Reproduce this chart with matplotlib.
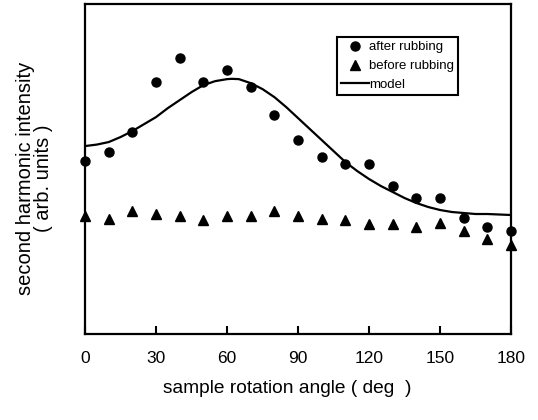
import numpy as np
import matplotlib.pyplot as plt

plt.rcParams['font.family'] = ['Liberation Sans', 'DejaVu Sans']

# sample rotation angle (deg)
angle = [0, 10, 20, 30, 40, 50, 60, 70, 80, 90, 100, 110, 120, 130, 140, 150, 160, 170, 180]
after_rubbing = [173, 181.7, 202.3, 252, 276.3, 252, 264, 247.3, 218.7, 194, 177.5,
                 170, 170, 148.3, 136.3, 136.3, 115.7, 107.3, 103.3]
before_rubbing = [118, 115.3, 123.3, 119.7, 117.7, 113.7, 117.7, 117.7, 123.3, 118, 115.3,
                  113.7, 109.7, 109.7, 107, 111.3, 103, 94.7, 88.7]

# model curve
model_angle = [0, 5, 10, 15, 20, 25, 30, 35, 40, 45, 50, 55, 60, 62, 65, 70, 75, 80, 85,
               90, 95, 100, 105, 110, 115, 120, 125, 130, 135, 140, 145, 150, 155, 160,
               165, 170, 175, 180]
model = [188, 189.5, 192, 197, 203, 210, 217, 226, 234, 242, 249, 253, 255, 255.3, 255,
         251, 245, 237, 227, 216, 205, 194, 183, 172, 163, 155, 148, 142, 136, 131, 127,
         124, 122, 121, 120, 120, 119.5, 119]

fig = plt.figure(figsize=(5.38, 4.2), dpi=100)
ax = fig.add_axes([0.158, 0.205, 0.792, 0.785])

ax.plot(angle, after_rubbing, 'o', color='black', markersize=6.5, clip_on=False,
        label='after rubbing', zorder=3)
ax.plot(angle, before_rubbing, '^', color='black', markersize=7, clip_on=False,
        label='before rubbing', zorder=3)
ax.plot(model_angle, model, '-', color='black', linewidth=1.6, label='model')

ax.set_xlim(0, 180)
ax.set_ylim(0, 330)
ax.set_xticks([0, 30, 60, 90, 120, 150, 180])
ax.set_yticks([])
ax.tick_params(axis='x', direction='in', length=6, width=1.5, pad=12, labelsize=12.5)
for s in ax.spines.values():
    s.set_linewidth(1.6)

ax.set_xlabel('sample rotation angle ( deg  )', fontsize=13.8)
ax.xaxis.set_label_coords(0.475, -0.14)
ax.set_ylabel('second harmonic intensity\n( arb. units )', fontsize=14.5, linespacing=0.95)
ax.yaxis.set_label_coords(-0.075, 0.473)

leg = ax.legend(loc='upper right', bbox_to_anchor=(0.876, 0.9), borderaxespad=0,
                fontsize=9.5, fancybox=False, edgecolor='black', framealpha=1,
                handlelength=2.1, handletextpad=0.05, borderpad=0.3, labelspacing=0.5)
leg.get_frame().set_linewidth(1.5)

fig.savefig('out.png', dpi=100)
